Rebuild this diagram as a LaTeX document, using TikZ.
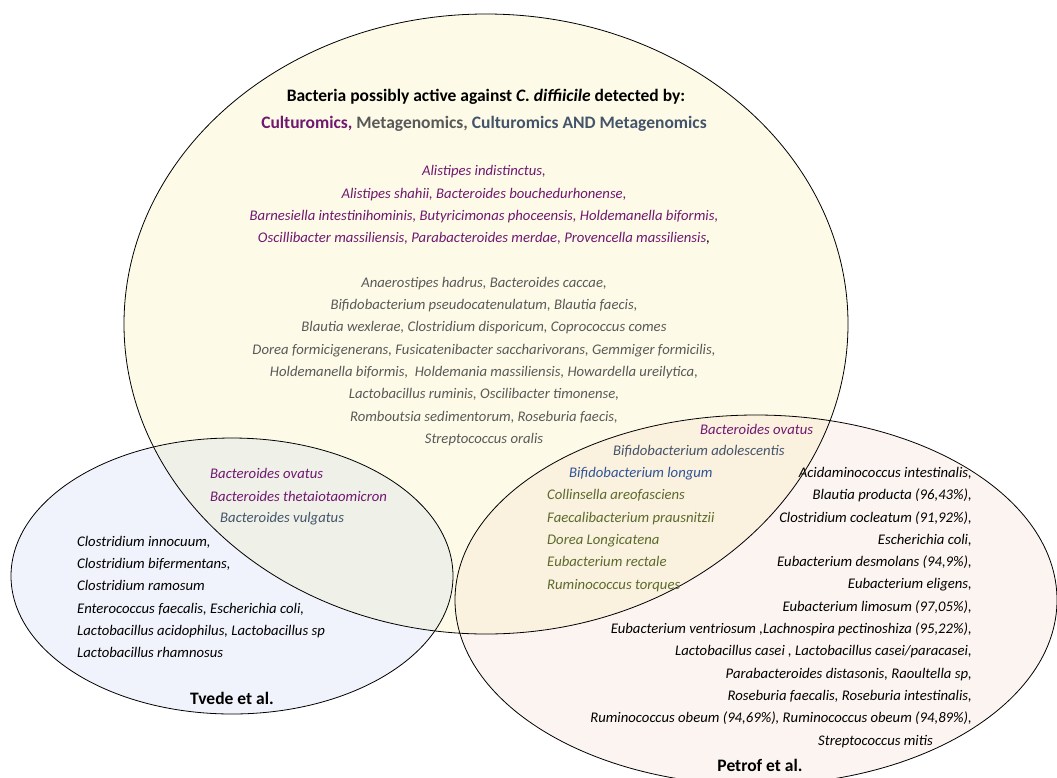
\documentclass[tikz,border=0pt]{standalone}
\usepackage{fontspec}
\setmainfont{Carlito}
\usetikzlibrary{shapes.geometric}
\definecolor{cpurple}{HTML}{701870}
\definecolor{cgray}{HTML}{595959}
\definecolor{cslate}{HTML}{44546A}
\definecolor{cblue}{HTML}{2F5597}
\definecolor{colive}{HTML}{5A6B2C}
\definecolor{fbig}{HTML}{FDFBE7}
\definecolor{fleft}{HTML}{F0F3FB}
\definecolor{fright}{HTML}{FCF4F0}
\definecolor{fbl}{HTML}{EFF0E8}
\definecolor{fbr}{HTML}{FBF1DF}
\tikzset{
  body/.style={inner sep=0pt, font=\fontsize{14.7}{22.3}\selectfont\itshape},
  head/.style={inner sep=0pt, font=\fontsize{17.5}{20}\selectfont\bfseries},
  outline/.style={draw=black, line width=0.8pt}
}
\begin{document}
\begin{tikzpicture}[x=1pt,y=-1pt]
\useasboundingbox (0,0) rectangle (1057,777);
\clip (0,0) rectangle (1057,777);
% fills
\fill[fbig] (486,324) ellipse [x radius=362pt, y radius=310pt];
\fill[fleft] (232,576) ellipse [x radius=221pt, y radius=138pt];
\fill[fright] (756,600) ellipse [x radius=301pt, y radius=185pt];
\begin{scope}
  \clip (486,324) ellipse [x radius=362pt, y radius=310pt];
  \fill[fbl] (232,576) ellipse [x radius=221pt, y radius=138pt];
  \fill[fbr] (756,600) ellipse [x radius=301pt, y radius=185pt];
\end{scope}
% outlines
\draw[outline] (486,324) ellipse [x radius=362pt, y radius=310pt];
\draw[outline] (232,576) ellipse [x radius=221pt, y radius=138pt];
\draw[outline] (756,600) ellipse [x radius=301pt, y radius=185pt];
% big ellipse texts
\node[head] (title) at (486,97) {Bacteria possibly active against \textit{C. diffiicile} detected by:};
\node[head] (subtitle) at (484,124) {\textcolor{cpurple}{Culturomics,} \textcolor{cgray}{Metagenomics,} \textcolor{cslate}{Culturomics AND Metagenomics}};
\node[body, text=cpurple, align=center] (cult) at (484,205) {Alistipes indistinctus,\\
Alistipes shahii, Bacteroides bouchedurhonense,\\
Barnesiella intestinihominis, Butyricimonas phoceensis, Holdemanella biformis,\\
Oscillibacter massiliensis, Parabacteroides merdae, Provencella massiliensis\textcolor{black}{,}};
\node[body, text=cgray, align=center] (meta) at (484,361.5) {Anaerostipes hadrus, Bacteroides caccae,\\
Bifidobacterium pseudocatenulatum, Blautia faecis,\\
Blautia wexlerae, Clostridium disporicum, Coprococcus comes\\
Dorea formicigenerans, Fusicatenibacter saccharivorans, Gemmiger formicilis,\\
Holdemanella biformis,\ \ Holdemania massiliensis, Howardella ureilytica,\\
Lactobacillus ruminis, Oscilibacter timonense,\\
Romboutsia sedimentorum, Roseburia faecis,\\
Streptococcus oralis};
% big & right overlap
\node[body, text=cpurple, anchor=west] (rovatus) at (700,429) {Bacteroides ovatus};
\node[body, text=cslate, anchor=west] (radol) at (613,451) {Bifidobacterium adolescentis};
\node[body, text=cblue, anchor=west] (rlong) at (569,474) {Bifidobacterium longum};
\node[body, text=colive, align=left, anchor=west] (olive) at (547,540.5) {Collinsella areofasciens\\
Faecalibacterium prausnitzii\\
Dorea Longicatena\\
Eubacterium rectale\\
Ruminococcus torques};
% right only
\node[body, align=right, anchor=east] (petrofl) at (972,596) {Acidaminococcus intestinalis,\\
Blautia producta (96,43\%),\\
Clostridium cocleatum (91,92\%),\\
Escherichia coli,\\
Eubacterium desmolans (94,9\%),\\
Eubacterium eligens,\\
Eubacterium limosum (97,05\%),\\
Eubacterium ventriosum ,Lachnospira pectinoshiza (95,22\%),\\
Lactobacillus casei , Lactobacillus casei/paracasei,\\
Parabacteroides distasonis, Raoultella sp,\\
Roseburia faecalis, Roseburia intestinalis,\\
Ruminococcus obeum (94,69\%), Ruminococcus obeum (94,89\%),};
\node[body, anchor=west] (strep) at (818,742) {Streptococcus mitis};
\node[head] (petrof) at (760,765) {Petrof et al.};
% big & left overlap
\node[body, text=cpurple, align=left, anchor=west] (lbact) at (210,485) {Bacteroides ovatus\\
Bacteroides thetaiotaomicron};
\node[body, text=cslate, anchor=west] (lvulg) at (220,519) {Bacteroides vulgatus};
% left only
\node[body, align=left, anchor=west] (tvedel) at (77,597) {Clostridium innocuum,\\
Clostridium bifermentans,\\
Clostridium ramosum\\
Enterococcus faecalis, Escherichia coli,\\
Lactobacillus acidophilus, Lactobacillus sp\\
Lactobacillus rhamnosus};
\node[head] (tvede) at (232,698) {Tvede et al.};
\end{tikzpicture}
\end{document}
